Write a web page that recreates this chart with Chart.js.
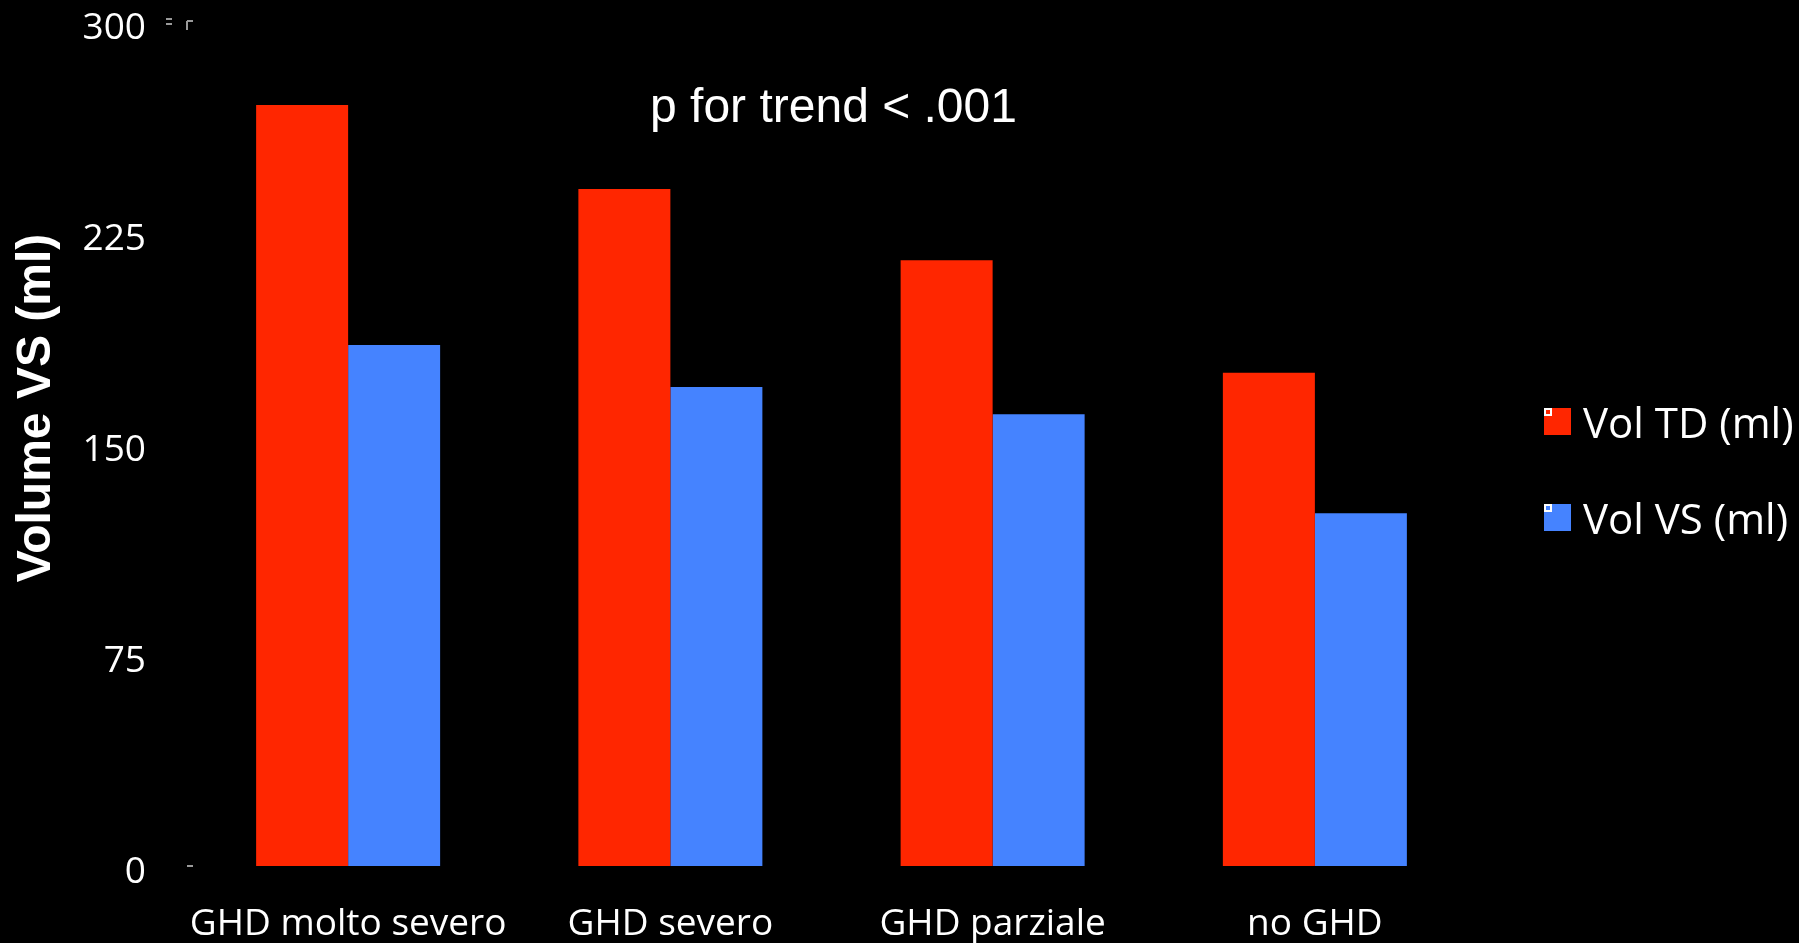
<!DOCTYPE html>
<html>
<head>
<meta charset="utf-8">
<script src="https://cdn.jsdelivr.net/npm/chart.js@4.4.1/dist/chart.umd.min.js"></script>
<style>
  html, body { margin: 0; padding: 0; background: #000; }
  #wrap { width: 1799px; height: 943px; position: relative; }
</style>
</head>
<body>
<div id="wrap"><canvas id="c" width="1799" height="943"></canvas></div>
<script>
// Categories and series values
const categories = ['GHD molto severo', 'GHD severo', 'GHD parziale', 'no GHD'];
const volTD = [270.5, 240.6, 215.3, 175.3];
const volVS = [185.2, 170.3, 160.6, 125.4];
const seriesLabels = ['Vol TD (ml)', 'Vol VS (ml)'];
const yTicks = [0, 75, 150, 225, 300];
const trendText = 'p for trend < .001';
const yTitle = 'Volume VS (ml)';

const RED = '#FF2600';
const BLUE = '#4583FF';

// Text overlays: trend note, rotated y-axis title, small axis marks, legend
const overlay = {
  id: 'overlay',
  afterDraw(chart) {
    const ctx = chart.ctx;
    const area = chart.chartArea;
    const y = chart.scales.y;
    ctx.save();

    // trend note centred over the plot
    ctx.fillStyle = '#fff';
    ctx.font = '48px "Liberation Sans", Arial, sans-serif';
    ctx.textAlign = 'center';
    ctx.textBaseline = 'middle';
    ctx.fillText(trendText, (area.left + area.right) / 2 + 2, 109);

    // rotated y-axis title
    ctx.save();
    ctx.translate(37, 408);
    ctx.rotate(-Math.PI / 2);
    ctx.font = 'bold 48px "Liberation Sans", Arial, sans-serif';
    ctx.fillText(yTitle, 0, 0);
    ctx.restore();

    // small grey marks at the axis ends
    ctx.strokeStyle = '#9a9a9a';
    ctx.lineWidth = 2;
    const y0 = y.getPixelForValue(0);
    const yTop = y.getPixelForValue(300);
    ctx.beginPath();
    ctx.moveTo(area.left, y0); ctx.lineTo(area.left + 6, y0);
    ctx.moveTo(area.left, yTop - 1); ctx.lineTo(area.left + 6, yTop - 1);
    ctx.moveTo(area.left, yTop - 1); ctx.lineTo(area.left, yTop + 8);
    ctx.moveTo(area.left - 21, yTop - 3); ctx.lineTo(area.left - 15, yTop - 3);
    ctx.moveTo(area.left - 21, yTop + 2); ctx.lineTo(area.left - 15, yTop + 2);
    ctx.stroke();

    // legend
    const lx = 1544, rows = [422, 518];
    chart.data.datasets.forEach((ds, i) => {
      const cy = rows[i];
      ctx.fillStyle = ds.backgroundColor;
      ctx.fillRect(lx, cy - 14, 27, 27);
      ctx.strokeStyle = '#fff';
      ctx.lineWidth = 2;
      ctx.strokeRect(lx + 1, cy - 13, 6, 6);
      ctx.fillStyle = '#fff';
      ctx.font = '42px "Open Sans", sans-serif';
      ctx.textAlign = 'left';
      ctx.textBaseline = 'middle';
      ctx.fillText(ds.label, 1583, cy + 4);
    });
    ctx.restore();
  }
};

new Chart(document.getElementById('c'), {
  type: 'bar',
  data: {
    labels: categories,
    datasets: [
      { label: seriesLabels[0], data: volTD, backgroundColor: RED },
      { label: seriesLabels[1], data: volVS, backgroundColor: BLUE }
    ]
  },
  options: {
    responsive: false,
    animation: false,
    devicePixelRatio: 1,
    layout: { padding: { top: 0, right: 323, left: 0, bottom: 0 } },
    datasets: { bar: { barPercentage: 1.0, categoryPercentage: 0.571 } },
    plugins: {
      legend: { display: false },
      tooltip: { enabled: false },
      title: { display: false }
    },
    scales: {
      x: {
        afterFit: (s) => { s.height = 77; s.paddingLeft = 0; s.paddingRight = 0; },
        grid: { display: false },
        border: { display: false },
        ticks: {
          color: '#fff',
          font: { family: '"Open Sans", sans-serif', size: 37 },
          padding: 28,
          maxRotation: 0,
          autoSkip: false
        }
      },
      y: {
        min: 0,
        max: 300,
        afterBuildTicks: (s) => { s.ticks = yTicks.map(v => ({ value: v })); },
        afterFit: (s) => { s.width = 187; s.paddingTop = 22; s.paddingBottom = 0; },
        grid: { display: false },
        border: { display: false },
        ticks: {
          color: '#fff',
          font: { family: '"Open Sans", sans-serif', size: 37 },
          padding: 33,
          labelOffset: 6
        }
      }
    }
  },
  plugins: [overlay]
});
</script>
</body>
</html>
